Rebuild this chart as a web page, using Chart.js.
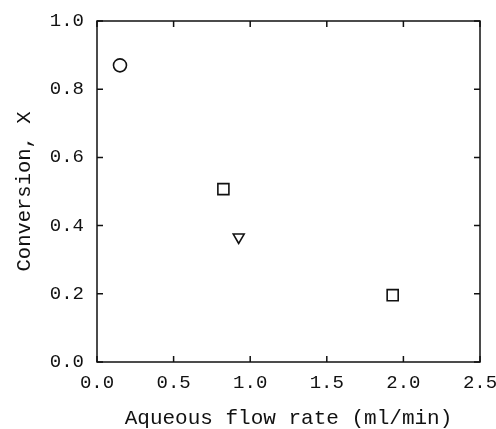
<!DOCTYPE html>
<html>
<head>
<meta charset="utf-8">
<script src="https://cdn.jsdelivr.net/npm/chart.js@4/dist/chart.umd.min.js"></script>
<style>
html,body{margin:0;padding:0;background:#fff;}
canvas{display:block;}
</style>
</head>
<body>
<canvas id="c" width="496" height="429"></canvas>
<script>
// Data
const circleX = [0.15];
const circleY = [0.87];
const squareX = [0.825, 1.93];
const squareY = [0.507, 0.196];
const triangleX = [0.925];
const triangleY = [0.366];
const xTicks = [0.0, 0.5, 1.0, 1.5, 2.0, 2.5];
const yTicks = [0.0, 0.2, 0.4, 0.6, 0.8, 1.0];
const xTitle = 'Aqueous flow rate (ml/min)';
const yTitle = 'Conversion, X';

const pts = (xs, ys) => xs.map((x, i) => ({x, y: ys[i]}));
const FONT = '"Liberation Mono", "DejaVu Sans Mono", monospace';
const INK = '#111';

const frame = {
  id: 'frame',
  afterDatasetsDraw(chart) {
    const {ctx, chartArea: a, scales: {x, y}} = chart;
    ctx.save();
    ctx.strokeStyle = INK;
    ctx.lineWidth = 1.5;
    ctx.strokeRect(a.left, a.top, a.right - a.left, a.bottom - a.top);
    const L = 6;
    ctx.beginPath();
    xTicks.forEach(v => {
      const px = x.getPixelForValue(v);
      ctx.moveTo(px, a.bottom); ctx.lineTo(px, a.bottom - L);
      ctx.moveTo(px, a.top); ctx.lineTo(px, a.top + L);
    });
    yTicks.forEach(v => {
      const py = y.getPixelForValue(v);
      ctx.moveTo(a.left, py); ctx.lineTo(a.left + L, py);
      ctx.moveTo(a.right, py); ctx.lineTo(a.right - L, py);
    });
    ctx.stroke();
    ctx.restore();
  }
};

new Chart(document.getElementById('c'), {
  type: 'scatter',
  data: {
    datasets: [
      {data: pts(circleX, circleY), pointStyle: 'circle', pointRadius: 6.5},
      {data: pts(squareX, squareY), pointStyle: 'rect', pointRadius: 7.8},
      {data: pts(triangleX, triangleY), pointStyle: 'triangle', pointRotation: 180, pointRadius: 6.3}
    ].map(d => Object.assign(d, {
      borderColor: INK, backgroundColor: 'rgba(0,0,0,0)', borderWidth: 1.6,
      pointHoverRadius: d.pointRadius
    }))
  },
  options: {
    responsive: false,
    animation: false,
    events: [],
    layout: {padding: {top: 21, right: 16, left: 12, bottom: 0}},
    plugins: {legend: {display: false}, tooltip: {enabled: false}},
    scales: {
      x: {
        type: 'linear', min: 0, max: 2.5,
        afterBuildTicks: s => { s.ticks = xTicks.map(v => ({value: v})); },
        grid: {display: false, drawTicks: false},
        border: {display: false},
        ticks: {padding: 10, color: INK, font: {family: FONT, size: 19},
                callback: v => v.toFixed(1), maxRotation: 0},
        title: {display: true, text: xTitle, color: INK,
                font: {family: FONT, size: 21}, padding: {top: 15, bottom: -2}},
        afterFit: s => { s.height = 429 - 362; s.paddingLeft = 0; s.paddingRight = 0; }
      },
      y: {
        type: 'linear', min: 0, max: 1,
        afterBuildTicks: s => { s.ticks = yTicks.map(v => ({value: v})); },
        grid: {display: false, drawTicks: false},
        border: {display: false},
        ticks: {padding: 13, color: INK, font: {family: FONT, size: 19},
                callback: v => v.toFixed(1)},
        title: {display: true, text: yTitle, color: INK,
                font: {family: FONT, size: 20.5}, padding: {top: 0, bottom: 4}},
        afterFit: s => { s.width = 97 - 12; s.paddingTop = 0; s.paddingBottom = 0; }
      }
    }
  },
  plugins: [frame]
});
</script>
</body>
</html>
